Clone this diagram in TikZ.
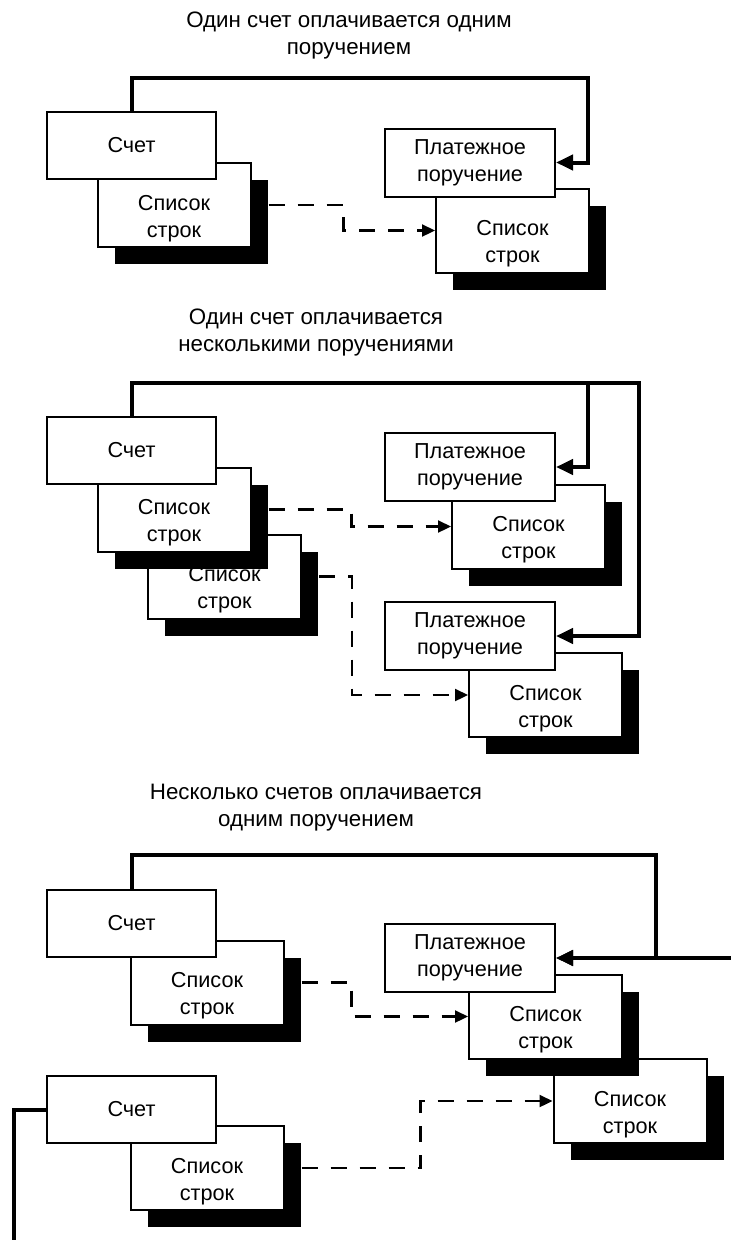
\documentclass[tikz,border=0pt]{standalone}
\usepackage{fontspec}
\setmainfont{Liberation Sans}
\usetikzlibrary{shadows,arrows.meta}

\newcommand{\boxfont}{\fontsize{16.25pt}{20.25pt}\selectfont}
\newcommand{\headfont}{\fontsize{16.75pt}{20.25pt}\selectfont}

\begin{document}
\begin{tikzpicture}[%
        x=0.75pt, y=-0.75pt,
        box/.style={%
          rectangle,
          draw,
          line width=1.5pt,
          fill=white,
          font=\boxfont,
          align=center,
          inner sep=0pt
        },
        schet/.style={box, minimum width=126.75pt, minimum height=50.25pt},
        plat/.style={box, minimum width=127.5pt, minimum height=51pt},
        spisok/.style={box, minimum width=114.75pt, minimum height=63pt,
          general shadow={fill=black, shadow xshift=12.75pt, shadow yshift=-12.75pt},
          label={[font=\boxfont, align=center, yshift=-10pt]center:Список\\строк}},
        link/.style={line width=3pt, -{Triangle[length=12.75pt,width=11.25pt]}},
        %>=stealth,
        dataflow/.style={line width=1.7pt, dash pattern=on 12pt off 9.75pt,
          -{Triangle[length=9.75pt,width=9pt]}},
        head/.style={font=\headfont, align=center}
      ]
      \useasboundingbox (0,0) rectangle (731,1240);
      \clip (0,0) rectangle (731,1240);

      % one invoice, one order
      \node[head] (0) at (349,36) {Один счет оплачивается одним\\поручением};
      \node[spisok] (1) at (174,205) {};
      \node[schet] (2) at (131.5,145.5) {Счет};
      \node[spisok] (3) at (512.5,230.5) {};
      \node[plat] (4) at (470,162.5) {Платежное\\поручение};

      \coordinate (c1) at (588,78);
      \draw[link] (2.north) |- (c1) |- (4.east);
      \draw[dataflow] ([xshift=12.75pt]1.east) -- ++(75,0) |- (3.west);

      % one invoice, several orders
      \node[head] (5) at (316,332.5) {Один счет оплачивается\\несколькими поручениями};
      \node[spisok] (6) at (224.5,576.5) {};
      \node[spisok] (7) at (174,509.5) {};
      \node[schet] (8) at (131.5,450) {Счет};
      \node[spisok] (9) at (528.5,526.5) {};
      \node[plat] (10) at (470,467) {Платежное\\поручение};
      \node[spisok] (11) at (545.5,695) {};
      \node[plat] (12) at (470,636) {Платежное\\поручение};

      \coordinate (c2) at (639,383);
      \coordinate (c3) at (588,383);
      \draw[link] (8.north) |- (c2) |- (12.east);
      \draw[link] (c3) |- (10.east);
      \draw[dataflow] ([xshift=12.75pt]7.east) -- ++(83,0) |- (9.west);
      \draw[dataflow] ([xshift=12.75pt]6.east) -- ++(33,0) |- (11.west);

      % several invoices, one order
      \node[head] (13) at (316,808) {Несколько счетов оплачивается\\одним поручением};
      \node[spisok] (14) at (207,982.5) {};
      \node[schet] (15) at (131.5,923.5) {Счет};
      \node[spisok] (16) at (630,1101) {};
      \node[spisok] (17) at (545.5,1016.5) {};
      \node[plat] (18) at (470,958) {Платежное\\поручение};
      \node[spisok] (19) at (207,1168) {};
      \node[schet] (20) at (131.5,1109.5) {Счет};

      \coordinate (c4) at (656,855);
      \coordinate (c5) at (14,1280);
      \coordinate (c6) at (760,1280);
      \draw[link] (15.north) |- (c4) |- (18.east);
      \draw[link] (20.west) -| (c5) -- (c6) |- (18.east);
      \draw[dataflow] ([xshift=12.75pt]14.east) -- ++(50,0) |- (17.west);
      \draw[dataflow] ([xshift=12.75pt]19.east) -- ++(119,0) |- (16.west);

  \end{tikzpicture}
\end{document}
